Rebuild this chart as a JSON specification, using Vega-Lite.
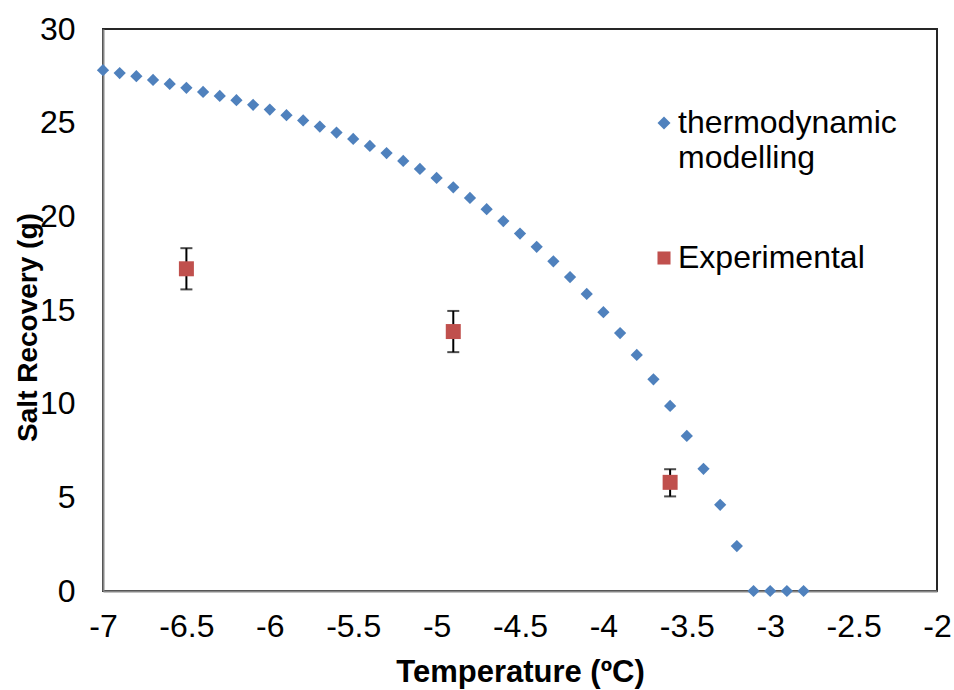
{
  "$schema": "https://vega.github.io/schema/vega-lite/v6.json",
  "width": 834,
  "height": 562,
  "autosize": {"type": "none"},
  "padding": {"left": 103, "top": 29, "right": 17, "bottom": 99},
  "background": "white",
  "config": {
    "view": {"stroke": "#262626", "strokeWidth": 2},
    "font": "Liberation Sans",
    "style": {"guide-label": {"lineHeight": 35}}
  },
  "datasets": {
    "model": [
      {"T": -7.0, "R": 27.8, "series": "thermodynamic modelling"},
      {"T": -6.9, "R": 27.65, "series": "thermodynamic modelling"},
      {"T": -6.8, "R": 27.48, "series": "thermodynamic modelling"},
      {"T": -6.7, "R": 27.28, "series": "thermodynamic modelling"},
      {"T": -6.6, "R": 27.07, "series": "thermodynamic modelling"},
      {"T": -6.5, "R": 26.86, "series": "thermodynamic modelling"},
      {"T": -6.4, "R": 26.64, "series": "thermodynamic modelling"},
      {"T": -6.3, "R": 26.43, "series": "thermodynamic modelling"},
      {"T": -6.2, "R": 26.2, "series": "thermodynamic modelling"},
      {"T": -6.1, "R": 25.95, "series": "thermodynamic modelling"},
      {"T": -6.0, "R": 25.7, "series": "thermodynamic modelling"},
      {"T": -5.9, "R": 25.4, "series": "thermodynamic modelling"},
      {"T": -5.8, "R": 25.12, "series": "thermodynamic modelling"},
      {"T": -5.7, "R": 24.79, "series": "thermodynamic modelling"},
      {"T": -5.6, "R": 24.47, "series": "thermodynamic modelling"},
      {"T": -5.5, "R": 24.13, "series": "thermodynamic modelling"},
      {"T": -5.4, "R": 23.76, "series": "thermodynamic modelling"},
      {"T": -5.3, "R": 23.38, "series": "thermodynamic modelling"},
      {"T": -5.2, "R": 22.96, "series": "thermodynamic modelling"},
      {"T": -5.1, "R": 22.53, "series": "thermodynamic modelling"},
      {"T": -5.0, "R": 22.05, "series": "thermodynamic modelling"},
      {"T": -4.9, "R": 21.55, "series": "thermodynamic modelling"},
      {"T": -4.8, "R": 20.98, "series": "thermodynamic modelling"},
      {"T": -4.7, "R": 20.38, "series": "thermodynamic modelling"},
      {"T": -4.6, "R": 19.75, "series": "thermodynamic modelling"},
      {"T": -4.5, "R": 19.08, "series": "thermodynamic modelling"},
      {"T": -4.4, "R": 18.37, "series": "thermodynamic modelling"},
      {"T": -4.3, "R": 17.6, "series": "thermodynamic modelling"},
      {"T": -4.2, "R": 16.76, "series": "thermodynamic modelling"},
      {"T": -4.1, "R": 15.86, "series": "thermodynamic modelling"},
      {"T": -4.0, "R": 14.88, "series": "thermodynamic modelling"},
      {"T": -3.9, "R": 13.77, "series": "thermodynamic modelling"},
      {"T": -3.8, "R": 12.6, "series": "thermodynamic modelling"},
      {"T": -3.7, "R": 11.3, "series": "thermodynamic modelling"},
      {"T": -3.6, "R": 9.88, "series": "thermodynamic modelling"},
      {"T": -3.5, "R": 8.28, "series": "thermodynamic modelling"},
      {"T": -3.4, "R": 6.52, "series": "thermodynamic modelling"},
      {"T": -3.3, "R": 4.6, "series": "thermodynamic modelling"},
      {"T": -3.2, "R": 2.4, "series": "thermodynamic modelling"},
      {"T": -3.1, "R": 0, "series": "thermodynamic modelling"},
      {"T": -3.0, "R": 0, "series": "thermodynamic modelling"},
      {"T": -2.9, "R": 0, "series": "thermodynamic modelling"},
      {"T": -2.8, "R": 0, "series": "thermodynamic modelling"}
    ],
    "exp": [
      {"T": -6.5, "R": 17.2, "lo": 16.1, "hi": 18.3, "series": "Experimental"},
      {"T": -4.9, "R": 13.85, "lo": 12.75, "hi": 14.95, "series": "Experimental"},
      {"T": -3.6, "R": 5.8, "lo": 5.05, "hi": 6.5, "series": "Experimental"}
    ]
  },
  "layer": [
    {
      "data": {"name": "exp"},
      "mark": {"type": "rule", "color": "black", "strokeWidth": 2},
      "encoding": {
        "x": {"field": "T", "type": "quantitative"},
        "y": {"field": "lo", "type": "quantitative"},
        "y2": {"field": "hi"}
      }
    },
    {
      "data": {"name": "exp"},
      "mark": {"type": "tick", "color": "black", "orient": "horizontal", "size": 12, "thickness": 2},
      "encoding": {
        "x": {"field": "T", "type": "quantitative"},
        "y": {"field": "lo", "type": "quantitative"}
      }
    },
    {
      "data": {"name": "exp"},
      "mark": {"type": "tick", "color": "black", "orient": "horizontal", "size": 12, "thickness": 2},
      "encoding": {
        "x": {"field": "T", "type": "quantitative"},
        "y": {"field": "hi", "type": "quantitative"}
      }
    },
    {
      "data": {"name": "model"},
      "mark": {"type": "point", "filled": true, "opacity": 1, "size": 150, "clip": false},
      "encoding": {
        "x": {
          "field": "T", "type": "quantitative",
          "scale": {"domain": [-7, -2], "nice": false, "zero": false},
          "axis": {
            "title": "Temperature (ºC)",
            "values": [-7, -6.5, -6, -5.5, -5, -4.5, -4, -3.5, -3, -2.5, -2],
            "format": "",
            "labelExpr": "replace(datum.label, '−', '-')",
            "grid": false, "ticks": false,
            "domainColor": "#868686", "domainWidth": 2,
            "labelFontSize": 32, "labelColor": "black", "labelPadding": 20,
            "labelFlush": false, "labelOverlap": false,
            "titleFontSize": 31, "titleFontWeight": "bold", "titleColor": "black",
            "titleBaseline": "middle", "titleY": 81
          }
        },
        "y": {
          "field": "R", "type": "quantitative",
          "scale": {"domain": [0, 30], "nice": false},
          "axis": {
            "title": "Salt Recovery (g)",
            "values": [0, 5, 10, 15, 20, 25, 30],
            "grid": false, "ticks": false,
            "domainColor": "#868686", "domainWidth": 2,
            "labelFontSize": 32, "labelColor": "black", "labelPadding": 28,
            "labelFlush": false, "labelOverlap": false,
            "titleFontSize": 28, "titleFontWeight": "bold", "titleColor": "black",
            "titleAngle": -90, "titleAlign": "center", "titleBaseline": "middle",
            "titleX": -75, "titleY": 298
          }
        },
        "color": {
          "field": "series", "type": "nominal",
          "scale": {"domain": ["thermodynamic modelling", "Experimental"], "range": ["#4F81BD", "#C0504D"]},
          "legend": {
            "title": null, "orient": "none", "legendX": 545, "legendY": 78,
            "labelFontSize": 32, "labelColor": "black", "labelOffset": -2,
            "labelExpr": "datum.label == 'thermodynamic modelling' ? ['thermodynamic', 'modelling'] : datum.label",
            "symbolSize": 170, "rowPadding": 68, "padding": 0, "labelLimit": 400
          }
        },
        "shape": {
          "field": "series", "type": "nominal",
          "scale": {"domain": ["thermodynamic modelling", "Experimental"], "range": ["diamond", "square"]},
          "legend": {
            "title": null, "orient": "none", "legendX": 545, "legendY": 78,
            "labelFontSize": 32, "labelColor": "black", "labelOffset": -2,
            "labelExpr": "datum.label == 'thermodynamic modelling' ? ['thermodynamic', 'modelling'] : datum.label",
            "symbolSize": 170, "rowPadding": 68, "padding": 0, "labelLimit": 400
          }
        }
      }
    },
    {
      "data": {"name": "exp"},
      "mark": {"type": "point", "filled": true, "opacity": 1, "size": 225},
      "encoding": {
        "x": {"field": "T", "type": "quantitative"},
        "y": {"field": "R", "type": "quantitative"},
        "color": {"field": "series", "type": "nominal"},
        "shape": {"field": "series", "type": "nominal"}
      }
    }
  ]
}
